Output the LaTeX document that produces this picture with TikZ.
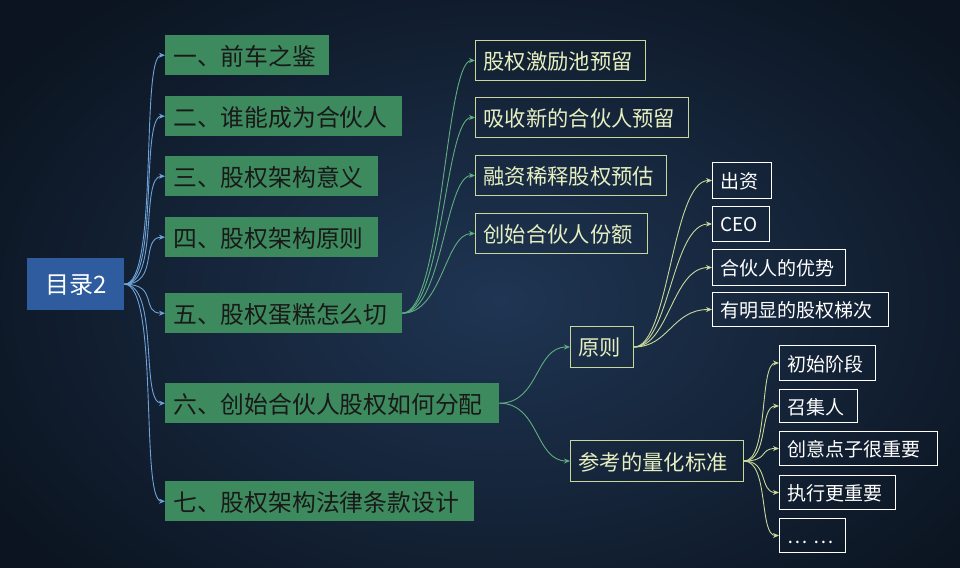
\documentclass[tikz,border=0pt]{standalone}
\usepackage{fontspec}
\setmainfont{Noto Sans CJK SC}
\usetikzlibrary{arrows.meta,calc}
\definecolor{bgd}{HTML}{0B1420}
\definecolor{bgl}{HTML}{1F3553}
\definecolor{grn}{HTML}{3D8A5F}
\definecolor{rootb}{HTML}{2E5C9E}
\definecolor{olive}{HTML}{C8D89A}
\definecolor{txtg}{HTML}{E6EFC0}
\definecolor{lblue}{HTML}{6FA3D8}
\definecolor{lgrn}{HTML}{5FAE80}
\tikzset{
 box/.style={anchor=north west,inner sep=0pt,align=left,text depth=0pt},
 lone/.style={box,fill=grn,text=black!90,font=\fontsize{23.8}{23.8}\selectfont},
 ltwo/.style={box,draw=olive,line width=1pt,text=txtg,font=\fontsize{21.3}{21.3}\selectfont},
 lthree/.style={box,draw=white,line width=1pt,text=white,font=\fontsize{19}{19}\selectfont},
 con/.style={line width=0.9pt,-{Stealth[length=6pt,width=5pt]}},
}
\newcommand{\bx}[7]{\node[#1,minimum width=#4pt,minimum height=#5pt,text width=#4pt] (#2) at (#3) {\hspace*{8pt}#6\vphantom{#7}};}
\begin{document}
\begin{tikzpicture}[x=1pt,y=-1pt]
\useasboundingbox (0,0) rectangle (960,567);
\fill[bgd] (0,0) rectangle (960,567);
\shade[inner color=bgl,outer color=bgd] (-100,-100) rectangle (1100,700);
% root
\node[box,fill=rootb,text=white,minimum width=97pt,minimum height=52pt,align=center,font=\fontsize{24}{24}\selectfont,text width=97pt] (r) at (27,258) {目录2};
% level 1
\bx{lone}{a}{165,35}{164}{40}{一、前车之鉴}{}
\bx{lone}{b}{165,96}{237}{40}{二、谁能成为合伙人}{}
\bx{lone}{c}{165,156}{213}{40}{三、股权架构意义}{}
\bx{lone}{d}{165,217}{213}{40}{四、股权架构原则}{}
\bx{lone}{e}{165,293}{237}{40}{五、股权蛋糕怎么切}{}
\bx{lone}{f}{165,383}{334}{40}{六、创始合伙人股权如何分配}{}
\bx{lone}{g}{165,481}{309}{40}{七、股权架构法律条款设计}{}
% level 2
\bx{ltwo}{e1}{475,40}{170}{40}{股权激励池预留}{}
\bx{ltwo}{e2}{475,97}{213}{40}{吸收新的合伙人预留}{}
\bx{ltwo}{e3}{475,155}{191}{40}{融资稀释股权预估}{}
\bx{ltwo}{e4}{475,213}{172}{40}{创始合伙人份额}{}
\bx{ltwo}{f1}{570,326}{63}{41}{原则}{}
\bx{ltwo}{f2}{570,440}{173}{41}{参考的量化标准}{}
% level 3
\bx{lthree}{p1}{712,162}{59}{36}{出资}{}
\bx{lthree}{p2}{712,206}{57}{35}{CEO}{出}
\bx{lthree}{p3}{712,249}{133}{36}{合伙人的优势}{}
\bx{lthree}{p4}{712,292}{176}{34}{有明显的股权梯次}{}
\bx{lthree}{q1}{779,345}{96}{35}{初始阶段}{}
\bx{lthree}{q2}{779,389}{78}{33}{召集人}{}
\bx{lthree}{q3}{779,431}{158}{34}{创意点子很重要}{}
\bx{lthree}{q4}{779,475}{116}{34}{执行更重要}{}
\bx{lthree}{q5}{779,518}{66}{34}{\mbox{…\ …}}{出}
% connectors
\foreach \t in {a,b,c,d,e,f,g}
  \draw[con,lblue] (r.east) .. controls +(35,0) and ($(\t.west)+(-25,0)$) .. (\t.west);
\foreach \t in {e1,e2,e3,e4}
  \draw[con,lgrn] (e.east) .. controls +(40,0) and ($(\t.west)+(-30,0)$) .. (\t.west);
\foreach \t in {f1,f2}
  \draw[con,lgrn] (f.east) .. controls +(40,0) and ($(\t.west)+(-35,0)$) .. (\t.west);
\foreach \t in {p1,p2,p3,p4}
  \draw[con,olive] (f1.east) .. controls +(35,0) and ($(\t.west)+(-40,0)$) .. (\t.west);
\foreach \t in {q1,q2,q3,q4,q5}
  \draw[con,olive] (f2.east) .. controls +(25,0) and ($(\t.west)+(-20,0)$) .. (\t.west);
\end{tikzpicture}
\end{document}
